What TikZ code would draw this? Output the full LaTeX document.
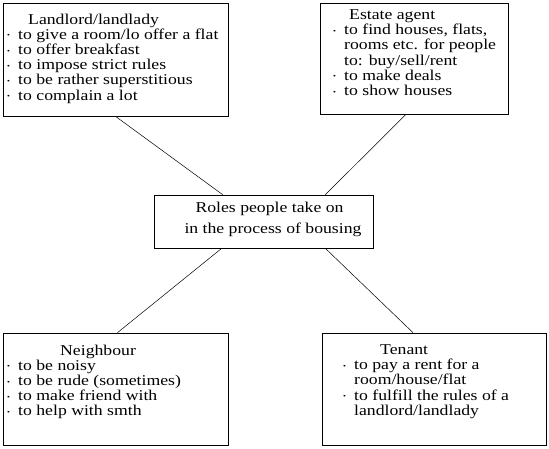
\documentclass[tikz,border=0pt]{standalone}
\usepackage{fontspec}
\setmainfont{Liberation Serif}[FakeStretch=1.18]
\usetikzlibrary{positioning,calc}

\newcommand{\bul}{\makebox[11pt][l]{\raisebox{1.5pt}{\scriptsize\textbullet}}}
\newcommand{\ind}{\hspace*{11pt}}

\tikzset{
  rolebox/.style={draw, line width=0.7pt, inner sep=0pt},
  roletxt/.style={anchor=north west, align=left, inner sep=0pt,
    font=\fontsize{15}{15.2}\selectfont},
  link/.style={line width=0.5pt}
}

\begin{document}
\begin{tikzpicture}[x=1pt, y=-1pt]
            \useasboundingbox (0,0) rectangle (549,449);

            % Centre
            \node[rolebox, minimum width=219pt, minimum height=53pt] (roles) at (263.5,221.5) {};
            \node[roletxt, align=center, anchor=north, font=\fontsize{15}{21}\selectfont] (rolestxt) at (273,201.5) {Roles people take on\hspace*{7pt}\\ in the process of bousing};

            % Landlord
            \node[rolebox, minimum width=225pt, minimum height=113pt] (landlord) at (115.5,59.5) {};
            \node[roletxt] (landlordtxt) at (7,13.5) {\hspace*{21pt}Landlord/landlady\\
              \bul to give a room/lo offer a flat\\
              \bul to offer breakfast\\
              \bul to impose strict rules\\
              \bul to be rather superstitious\\
              \bul to complain a lot};

            % Estate agent
            \node[rolebox, minimum width=188pt, minimum height=111pt] (estate) at (414,58.5) {};
            \node[roletxt] (estatetxt) at (333,9.5) {\hspace*{16pt}Estate agent\\
              \bul to find houses, flats,\\
              \ind rooms etc. for people\\
              \ind to: buy/sell/rent\\
              \bul to make deals\\
              \bul to show houses};

            % Neighbour
            \node[rolebox, minimum width=225pt, minimum height=112pt] (neighbour) at (115.5,389) {};
            \node[roletxt] (neighbourtxt) at (7,344.5) {\hspace*{53pt}Neighbour\\
              \bul to be noisy\\
              \bul to be rude (sometimes)\\
              \bul to make friend with\\
              \bul to help with smth};

            % Tenant
            \node[rolebox, minimum width=224pt, minimum height=112pt] (tenant) at (434,389) {};
            \node[roletxt] (tenanttxt) at (343,344.5) {\hspace*{37pt}Tenant\\
              \bul to pay a rent for a\\
              \ind room/house/flat\\
              \bul to fulfill the rules of a\\
              \ind landlord/landlady};

            % Links
            \draw[link] (landlord.south) -- ([xshift=69pt]roles.north west);
            \draw[link] ([xshift=-8pt]estate.south) -- ([xshift=-48pt]roles.north east);
            \draw[link] ([xshift=68pt]roles.south west) -- ([xshift=2pt]neighbour.north);
            \draw[link] ([xshift=-48pt]roles.south east) -- ([xshift=-21pt]tenant.north);
\end{tikzpicture}
\end{document}
